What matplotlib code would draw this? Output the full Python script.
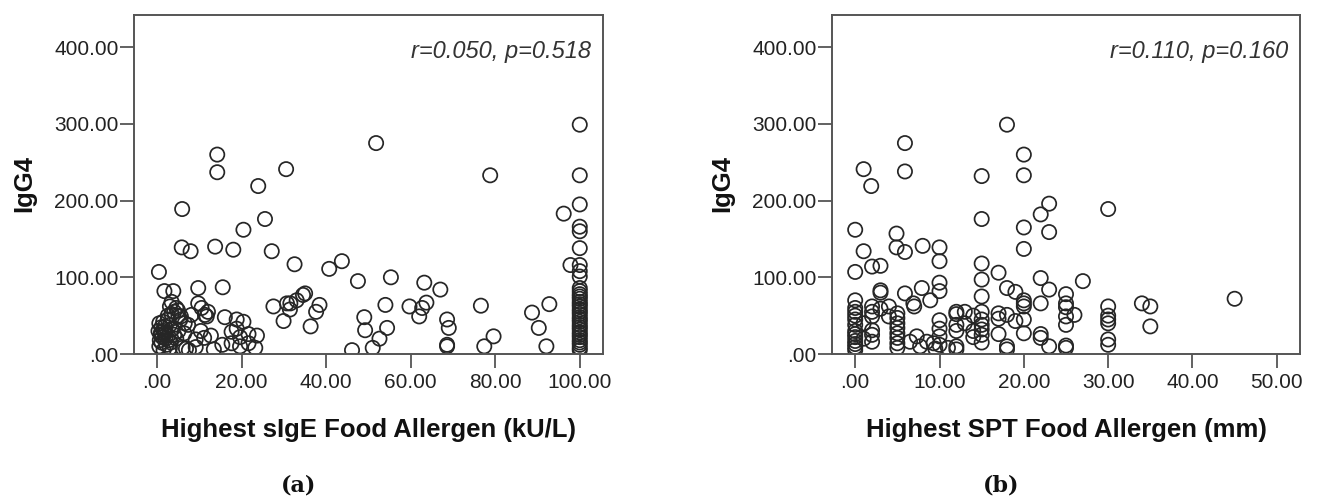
import matplotlib
matplotlib.use('Agg')
import matplotlib.pyplot as plt
from matplotlib.ticker import FuncFormatter

# Datos del panel (a): sIgE mas alto vs IgG4
sige = [14.2, 14.2, 30.5, 23.9, 5.9, 25.5, 20.4, 5.8, 7.9, 13.7, 18.0, 27.1, 32.5, 0.4,
        1.7, 3.8, 9.7, 15.5, 9.7,
        51.8, 40.7, 43.7, 47.5, 55.3, 63.2, 67.0, 35.0, 34.5, 31.5, 33.0, 27.5, 30.7, 31.4,
        29.9, 38.4, 37.6, 36.3, 54.0, 59.7, 63.7, 62.7, 62.0, 49.0, 49.2, 54.4, 52.6, 46.1,
        51.0, 68.6, 69.0, 68.6, 68.6,
        78.8, 96.2, 97.8, 76.6, 79.6, 77.4, 88.7, 92.8, 90.3, 92.1,
        100, 100, 100, 100, 100, 100, 100, 100, 100, 100, 100, 100, 100, 100, 100, 100, 100,
        100, 100, 100, 100, 100, 100, 100, 100, 100, 100, 100, 100, 100, 100, 100, 100, 100,
        0.5, 1.0, 1.5, 0.8, 2.0, 1.0, 2.5, 3.0, 0.3, 1.2, 2.0, 3.5, 2.8, 4.0, 0.5, 1.5, 3.0,
        2.2, 4.0, 3.0, 4.5, 3.4, 5.0, 2.5, 5.5, 6.5, 5.0, 4.5, 6.0, 7.5, 4.9, 3.4, 5.6, 8.1,
        11.3, 7.3, 6.4, 10.3, 11.1, 12.7, 9.1, 15.4, 13.4, 9.1, 6.8, 16.0, 18.8, 20.4, 17.6,
        18.8, 19.6, 21.6, 23.6, 17.6, 19.6, 21.6, 23.2, 11.7, 10.5, 12.0,
        1.8, 0.9, 2.6, 1.4, 3.2, 0.6]
igg4_a = [260, 237, 241, 219, 189, 176, 162, 139, 134, 140, 136, 134, 117, 107,
          82, 82, 86, 87, 66,
          275, 111, 121, 95, 100, 93, 84, 79, 77, 66, 70, 62, 66, 58,
          43, 64, 55, 36, 64, 62, 67, 60, 49, 48, 31, 34, 20, 5,
          8, 45, 34, 12, 10,
          233, 183, 116, 63, 23, 10, 54, 65, 34, 10,
          299, 233, 195, 166, 160, 138, 116, 108, 101, 86, 82, 78, 75, 72, 68, 65, 62,
          58, 55, 52, 48, 45, 42, 38, 35, 32, 28, 25, 22, 18, 15, 12, 8, 5,
          40, 35, 30, 25, 20, 15, 45, 38, 30, 22, 28, 32, 18, 25, 10, 5, 8,
          12, 55, 62, 60, 68, 50, 50, 45, 40, 30, 20, 8, 5, 57, 52, 49, 51,
          51, 38, 27, 30, 21, 24, 19, 12, 6, 9, 7, 48, 45, 42, 29,
          33, 22, 26, 24, 14, 10, 14, 8, 49, 60, 55,
          36, 28, 24, 42, 15, 18]

# Datos del panel (b): SPT mas alto vs IgG4
spt = [0, 0, 0, 0, 0, 0, 0, 0, 0, 0, 0, 0, 0, 0, 0,
       1.0, 1.0, 1.0, 1.0,
       1.9, 2.0, 2.0, 2.0, 2.0, 2.0, 2.0, 2.0,
       3.0, 3.0, 3.0, 3.0, 4.0, 4.0,
       4.9, 4.9, 5.0, 5.0, 5.0, 5.0, 5.0, 5.0, 5.0, 5.0,
       5.9, 5.9, 5.9, 5.9, 6.9, 7.0, 6.5, 7.3, 7.7,
       8.0, 7.9, 8.5, 9.5, 8.9, 9.3,
       10, 10, 10, 10, 10, 10, 10, 10, 11.0,
       12, 12, 12, 12, 12, 12, 13, 13, 14, 14, 14,
       15, 15, 15, 15, 15, 15, 15, 15, 15, 15, 15,
       17, 17, 17, 17, 18, 18, 18, 18, 18, 19, 19,
       20, 20, 20, 20, 20, 20, 20, 20, 20,
       22, 22, 22, 22, 22, 23, 23, 23, 23,
       25, 25, 25, 25, 25, 25, 25, 26, 27,
       30, 30, 30, 30, 30, 30, 30, 34, 35, 35, 45]
igg4_b = [162, 107, 70, 60, 55, 50, 45, 38, 30, 26, 22, 17, 13, 9, 5,
          241, 134, 40, 20,
          219, 114, 62, 55, 49, 31, 25, 16,
          115, 83, 80, 59, 62, 49,
          157, 139, 53, 47, 40, 34, 27, 21, 14, 8,
          275, 238, 133, 79, 66, 62, 16, 23, 10,
          141, 86, 16, 7, 70, 14,
          139, 121, 93, 82, 44, 33, 23, 12, 8,
          55, 52, 38, 30, 10, 6, 55, 40, 50, 30, 22,
          232, 176, 118, 97, 75, 55, 45, 38, 32, 25, 15,
          106, 53, 46, 26, 299, 86, 51, 10, 6, 81, 43,
          260, 233, 165, 137, 70, 66, 62, 45, 27,
          182, 99, 66, 26, 21, 196, 159, 84, 10,
          78, 66, 61, 49, 38, 11, 8, 51, 95,
          189, 62, 50, 45, 40, 19, 12, 66, 62, 36, 72]

y_ticks = [0, 100, 200, 300, 400]
x_ticks_a = [0, 20, 40, 60, 80, 100]
x_ticks_b = [0, 10, 20, 30, 40, 50]


def spss_fmt(v, pos):
    s = f'{v:.2f}'
    return s[1:] if s.startswith('0') else s


fig = plt.figure(figsize=(13.17, 4.98), dpi=100)
W, H = 1317, 498

paneles = [
    (134, 469, sige, igg4_a, x_ticks_a, (-5.5, 105.5),
     'Highest sIgE Food Allergen (kU/L)', 'r=0.050, p=0.518', '(a)', 299),
    (832, 468, spt, igg4_b, x_ticks_b, (-2.75, 52.75),
     'Highest SPT Food Allergen (mm)', 'r=0.110, p=0.160', '(b)', 1001),
]

for left, width, xs, ys, xt, xlim, xlabel, stat, tag, tag_x in paneles:
    ax = fig.add_axes([left / W, 1 - 354 / H, width / W, 339 / H])
    ax.scatter(xs, ys, s=105, facecolors='none', edgecolors='#262626', linewidths=1.25)
    ax.set_xlim(*xlim)
    ax.set_ylim(0, 442)
    ax.set_xticks(xt)
    ax.set_yticks(y_ticks)
    ax.xaxis.set_major_formatter(FuncFormatter(spss_fmt))
    ax.yaxis.set_major_formatter(FuncFormatter(spss_fmt))
    for sp in ax.spines.values():
        sp.set_color('#555555')
        sp.set_linewidth(1.4)
    ax.tick_params(direction='out', length=10, width=1.3, color='#555555',
                   labelsize=15, labelcolor='#222222')
    ax.tick_params(axis='y', pad=1)
    ax.tick_params(axis='x', pad=4)
    for lab in ax.get_xticklabels() + ax.get_yticklabels():
        lab.set_family('Liberation Sans')

    ax.text(0.974, 0.891, stat, transform=ax.transAxes, ha='right', va='center',
            fontsize=17, style='italic', color='#333333', family='Liberation Sans')

    # etiquetas de los ejes
    fig.text((left + width / 2) / W, 1 - 430 / H, xlabel, ha='center', va='center',
             fontsize=18.5, fontweight='bold', family='Liberation Sans', color='#111111')
    fig.text((left - 110) / W, 1 - 184 / H, 'IgG4', ha='center', va='center', rotation=90,
             fontsize=18.5, fontweight='bold', family='Liberation Sans', color='#111111')
    fig.text(tag_x / W, 1 - 485 / H, tag, ha='center', va='center',
             fontsize=16, fontweight='bold', family='DejaVu Serif', color='#111111')

plt.savefig('out.png', dpi=100)
